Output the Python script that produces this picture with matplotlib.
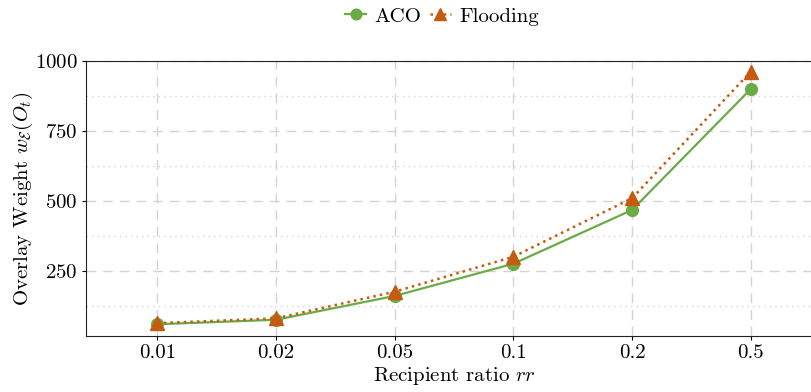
import matplotlib.pyplot as plt
from matplotlib.ticker import MultipleLocator

plt.rcParams['font.family'] = 'serif'
plt.rcParams['font.serif'] = ['cmr10']
plt.rcParams['mathtext.fontset'] = 'cm'
plt.rcParams['axes.formatter.use_mathtext'] = True

ratios = ['0.01', '0.02', '0.05', '0.1', '0.2', '0.5']
aco = [60, 76, 161, 276, 468, 900]
flooding = [64, 81, 176, 301, 510, 962]

green = '#6aab46'
orange = '#c55a11'

fig = plt.figure(figsize=(8.12, 3.92), dpi=100)
ax = fig.add_axes([86 / 812, 1 - 336 / 392, (822 - 86) / 812, (336 - 61) / 392])

x = range(len(ratios))
ax.plot(x, aco, color=green, lw=1.6, marker='o', ms=8.5, label='ACO', zorder=3)
ax.plot(x, flooding, color=orange, lw=1.8, ls=':', marker='^', ms=9.5,
        label='Flooding', zorder=4)

ax.set_xlim(-0.6, 5.6)
ax.set_ylim(18, 1000)
ax.set_xticks(list(x))
ax.set_xticklabels(ratios)
ax.yaxis.set_minor_locator(MultipleLocator(125))
ax.set_yticks([250, 500, 750, 1000])

ax.grid(which='major', ls=(0, (7, 5)), color='#d3d3d3', lw=1)
ax.grid(which='minor', axis='y', ls=(0, (1, 3)), color='#d3d3d3', lw=1)
ax.set_axisbelow(True)
ax.tick_params(which='minor', length=0)
ax.tick_params(which='major', labelsize=15, direction='out', length=3, pad=3)
for s in ax.spines.values():
    s.set_color('#222222')

ax.set_xlabel('Recipient ratio $rr$', fontsize=15, labelpad=2)
ax.set_ylabel(r'Overlay Weight $w_{\mathcal{E}}(O_t)$', fontsize=15, labelpad=0)

fig.legend(loc='upper center', bbox_to_anchor=(442 / 812, 1.03), ncol=2, frameon=False,
           fontsize=15, handlelength=1.0, handletextpad=0.4, columnspacing=0.4,
           markerscale=0.9)

plt.savefig('out.png', dpi=100)
